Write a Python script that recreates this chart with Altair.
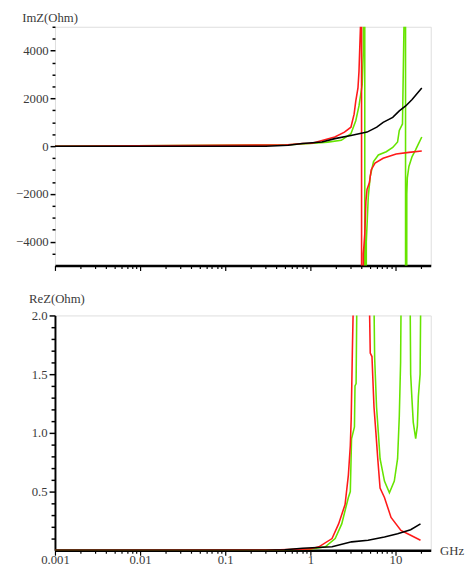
import altair as alt
import pandas as pd

# ---------------- data ----------------
# Top panel: ImZ (Ohm) vs frequency (GHz)
im_black_f = [0.001, 0.3, 0.55, 0.81, 1.37, 1.94, 3.0, 4.64, 6.04, 7.17, 9.3, 11.1, 13.2, 15.7, 20.4]
im_black_v = [0, 0, 40, 110, 178, 315, 450, 588, 794, 999, 1204, 1478, 1683, 1957, 2436]

im_red_f = [0.001, 0.5, 0.81, 1.05, 1.94, 2.52, 3.0, 3.27, 3.42, 3.63, 3.73, 3.9, 3.98, 4.02,
            4.2, 4.37, 4.5, 4.64, 4.94, 5.2, 5.76, 7.17, 10.2, 14.4, 20.4]
im_red_v = [0, 50, 110, 120, 383, 588, 794, 1341, 1889, 2436, 3121, 5200, 60000, -60000,
            -4500, -3654, -2300, -1807, -1533, -985, -712, -507, -328, -260, -205]

im_green_f = [0.001, 0.5, 1.0, 1.6, 2.31, 3.0, 3.42, 3.73, 4.07, 4.2, 4.33, 4.4, 4.55, 4.8,
              5.06, 5.53, 6.3, 7.8, 9.3, 10.6, 11.1, 12.1, 12.6, 13.1, 13.2, 13.6, 13.8,
              14.4, 15.7, 17.2, 18.7, 20.4]
im_green_v = [0, 50, 110, 170, 246, 520, 1068, 1683, 2573, 4000, 60000, -60000, -4000, -2100,
              -1259, -643, -370, -233, -55, 178, 657, 930, 5000, 60000, -60000, -2000, -1328,
              -849, -438, -164, 109, 383]

# Bottom panel: ReZ (Ohm) vs frequency (GHz)
re_black_f = [0.001, 0.3, 0.5, 0.81, 1.8, 3.06, 4.77, 7.43, 10.6, 15.1, 19.7]
re_black_v = [0, 0, 0.005, 0.017, 0.03, 0.072, 0.086, 0.114, 0.142, 0.175, 0.225]

re_red_f = [0.001, 0.36, 1.0, 1.26, 1.8, 2.15, 2.56, 2.8, 2.95, 3.02, 3.12, 3.2, 4.0, 4.95,
            5.06, 5.3, 5.6, 5.9, 6.2, 6.6, 7.43, 8.88, 11.6, 15.1, 19.7]
re_red_v = [0, 0.003, 0.012, 0.03, 0.1, 0.225, 0.39, 0.64, 0.89, 1.11, 1.7, 2.1, 6, 2.1,
            1.68, 1.65, 1.22, 1.0, 0.78, 0.53, 0.45, 0.28, 0.17, 0.128, 0.086]

re_green_f = [0.001, 0.36, 1.0, 1.5, 1.96, 2.34, 2.8, 2.95, 3.05, 3.3, 3.35, 3.45, 3.52, 4.4,
              5.6, 5.7, 6.0, 6.3, 6.6, 7.43, 8.5, 9.7, 10.6, 11.1, 11.5, 11.65, 13.0, 14.9,
              15.1, 15.6, 16.2, 17.3, 18.1, 18.6, 19.5, 19.8, 20.0]
re_green_v = [0, 0, 0.01, 0.03, 0.1, 0.225, 0.45, 0.5, 0.95, 1.05, 1.4, 1.42, 2.1, 6,
              2.1, 1.64, 1.22, 1.0, 0.78, 0.59, 0.49, 0.59, 0.78, 1.14, 1.6, 2.1, 6, 2.1,
              1.5, 1.3, 1.09, 0.95, 1.06, 1.31, 1.5, 2.1, 3]

# axis tick positions and labels
x_ticks = [0.001, 0.002, 0.003, 0.004, 0.005, 0.006, 0.007, 0.008, 0.009,
           0.01, 0.02, 0.03, 0.04, 0.05, 0.06, 0.07, 0.08, 0.09,
           0.1, 0.2, 0.3, 0.4, 0.5, 0.6, 0.7, 0.8, 0.9,
           1, 2, 3, 4, 5, 6, 7, 8, 9, 10, 20]
x_labels = ["0.001", "0.01", "0.1", "1", "10"]
top_y_ticks = [-4500, -4000, -3500, -3000, -2500, -2000, -1500, -1000, -500, 0,
               500, 1000, 1500, 2000, 2500, 3000, 3500, 4000, 4500, 5000]
bot_y_ticks = [0.1, 0.2, 0.3, 0.4, 0.5, 0.6, 0.7, 0.8, 0.9, 1.0,
               1.1, 1.2, 1.3, 1.4, 1.5, 1.6, 1.7, 1.8, 1.9, 2.0]

RED = "#ff1a1a"
GREEN = "#66e400"
BLACK = "#000000"
FONT = "'Liberation Serif', 'Times New Roman', 'DejaVu Serif', serif"
TXT = "#3a3a3a"
FS = 13
W = 384

label_list = "[" + ",".join("'" + s + "'" for s in x_labels) + "]"
x_label_expr = f"indexof({label_list}, format(datum.value, '~g')) >= 0 ? format(datum.value, '~g') : ''"
x_major_test = f"indexof({label_list}, format(datum.value, '~g')) >= 0"

x_scale = alt.Scale(type="log", domain=[0.001, 26], nice=False)


def x_axis(show_labels):
    kw = dict(
        values=x_ticks,
        grid=False,
        domainColor="black",
        domainWidth=2.5,
        tickColor="black",
        tickWidth=1.2,
        tickSize={"condition": {"test": x_major_test, "value": 5}, "value": 3},
        labelFlush=False,
        labelOverlap=False,
        labelFont=FONT,
        labelFontSize=FS,
        labelColor=TXT,
    )
    if show_labels:
        kw.update(
            labelExpr=x_label_expr,
            labelPadding=-2,
            title="GHz",
            titleFont=FONT,
            titleFontSize=FS,
            titleFontWeight="normal",
            titleColor=TXT,
            titleAngle=0,
            titleAlign="left",
            titleBaseline="middle",
            titleX=W + 9,
            titleY=0,
        )
    else:
        kw.update(labels=False, title=None)
    return alt.Axis(**kw)


def panel(series, y_scale, y_axis, x_ax):
    layers = []
    for f, v, col in series:
        df = pd.DataFrame({"f": f, "v": v})
        layers.append(
            alt.Chart(df).mark_line(color=col, strokeWidth=1.6, clip=True).encode(
                x=alt.X("f:Q", scale=x_scale, axis=x_ax),
                y=alt.Y("v:Q", scale=y_scale, axis=y_axis),
                order="f:Q",
            )
        )
    return alt.layer(*layers)


top_y_axis = alt.Axis(
    values=top_y_ticks,
    grid=False,
    domain=False,
    tickColor="black",
    tickWidth=1.5,
    tickSize={"condition": {"test": "datum.value % 2000 == 0", "value": 5}, "value": 3},
    labelExpr="datum.value % 2000 == 0 ? format(datum.value, 'd') : ''",
    labelFont=FONT,
    labelFontSize=FS,
    labelColor=TXT,
    labelPadding=2,
    labelOverlap=False,
    title="ImZ(Ohm)",
    titleFont=FONT,
    titleFontSize=FS,
    titleFontWeight="normal",
    titleColor=TXT,
    titleAngle=0,
    titleAlign="left",
    titleBaseline="middle",
    titleX=-34,
    titleY=-9,
)

bot_y_axis = alt.Axis(
    values=bot_y_ticks,
    grid=False,
    domain=True,
    domainColor="black",
    domainWidth=2,
    tickColor="black",
    tickWidth=1.5,
    tickSize={"condition": {"test": "abs(datum.value*2 - round(datum.value*2)) < 0.001", "value": 6}, "value": 4},
    labelExpr="abs(datum.value*2 - round(datum.value*2)) < 0.001 ? format(datum.value, '.1f') : ''",
    labelFont=FONT,
    labelFontSize=FS,
    labelColor=TXT,
    labelPadding=2,
    labelOverlap=False,
    title="ReZ(Ohm)",
    titleFont=FONT,
    titleFontSize=FS,
    titleFontWeight="normal",
    titleColor=TXT,
    titleAngle=0,
    titleAlign="left",
    titleBaseline="middle",
    titleX=-27,
    titleY=-17,
)

top = panel(
    [(im_green_f, im_green_v, GREEN), (im_red_f, im_red_v, RED), (im_black_f, im_black_v, BLACK)],
    alt.Scale(domain=[-5000, 5000], nice=False, zero=False),
    top_y_axis,
    x_axis(False),
).properties(width=W, height=244)

bottom = panel(
    [(re_green_f, re_green_v, GREEN), (re_red_f, re_red_v, RED), (re_black_f, re_black_v, BLACK)],
    alt.Scale(domain=[0, 2], nice=False, zero=False),
    bot_y_axis,
    x_axis(True),
).properties(width=W, height=240)

chart = (
    alt.vconcat(top, bottom, spacing=20)
    .properties(padding={"left": 7, "top": -3, "right": 0, "bottom": 0})
    .configure_view(stroke=None)
    .configure(background="white", font=FONT)
)

chart.save("out.html", embed_options={"renderer": "svg", "actions": False})
